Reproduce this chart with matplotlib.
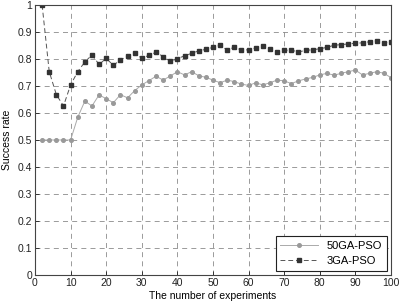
import matplotlib
matplotlib.use("Agg")
import matplotlib.pyplot as plt
import numpy as np

# experiment counts (every 2 experiments)
experiments = list(range(2, 101, 2))

# success rate of 50GA-PSO
rate_50ga = [0.500, 0.500, 0.500, 0.500, 0.500, 0.584, 0.644, 0.626, 0.667, 0.653,
             0.638, 0.668, 0.656, 0.683, 0.704, 0.720, 0.736, 0.722, 0.737, 0.753,
             0.741, 0.753, 0.738, 0.732, 0.722, 0.712, 0.722, 0.716, 0.707, 0.702,
             0.712, 0.704, 0.712, 0.722, 0.719, 0.709, 0.719, 0.726, 0.732, 0.741,
             0.747, 0.740, 0.747, 0.753, 0.759, 0.741, 0.747, 0.753, 0.747, 0.731]

# success rate of 3GA-PSO
rate_3ga = [1.000, 0.753, 0.668, 0.626, 0.704, 0.753, 0.789, 0.815, 0.780, 0.802,
            0.777, 0.796, 0.812, 0.823, 0.802, 0.814, 0.825, 0.809, 0.791, 0.801,
            0.812, 0.821, 0.830, 0.836, 0.843, 0.851, 0.833, 0.844, 0.833, 0.834,
            0.841, 0.849, 0.836, 0.825, 0.832, 0.833, 0.826, 0.832, 0.834, 0.838,
            0.843, 0.851, 0.853, 0.856, 0.858, 0.860, 0.864, 0.867, 0.860, 0.864]

x_ticks = list(range(0, 101, 10))
y_ticks = [0, 0.1, 0.2, 0.3, 0.4, 0.5, 0.6, 0.7, 0.8, 0.9, 1]

plt.rcParams['font.family'] = ['Liberation Sans', 'DejaVu Sans']
plt.rcParams['font.size'] = 7.5

fig = plt.figure(figsize=(4.01, 3.03), dpi=100)
ax = fig.add_axes([35 / 401, 1 - 275 / 303, 356 / 401, 270 / 303])

ax.plot(experiments, rate_50ga, color='#aaaaaa', linestyle='-', linewidth=0.7,
        marker='o', markersize=2.6, markerfacecolor='#999999', markeredgecolor='#999999',
        label='50GA-PSO')
ax.plot(experiments, rate_3ga, color='#555555', linestyle=(0, (5, 3)), linewidth=0.7,
        marker='s', markersize=2.6, markerfacecolor='#333333', markeredgecolor='#333333',
        label='3GA-PSO')

ax.set_xlim(0, 100)
ax.set_ylim(0, 1)
ax.set_xticks(x_ticks)
ax.set_yticks(y_ticks)
ax.set_yticklabels(['0', '0.1', '0.2', '0.3', '0.4', '0.5', '0.6', '0.7', '0.8', '0.9', '1'])
ax.tick_params(direction='in', length=3, width=0.6, colors='#222222', pad=2)
ax.grid(True, color='#8a8a8a', linestyle=(0, (6, 5)), linewidth=0.6)
for s in ax.spines.values():
    s.set_linewidth(0.8)
    s.set_color('#444444')

ax.set_xlabel('The number of experiments', labelpad=2)
ax.set_ylabel('Success rate', labelpad=4)

leg = ax.legend(loc='lower right', fancybox=False, framealpha=1, edgecolor='#222222',
                handlelength=3.4, borderaxespad=0.4, fontsize=8)
leg.get_frame().set_linewidth(0.8)

fig.savefig('out.png', dpi=100)
